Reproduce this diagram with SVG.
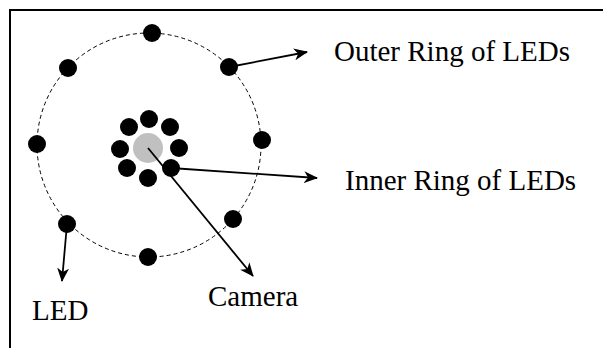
<svg xmlns="http://www.w3.org/2000/svg" width="603" height="348" viewBox="0 0 603 348">
<defs>
<style>
.led{fill:#000}
.cam{fill:#c0c0c0}
.ring{fill:none;stroke:#000;stroke-width:1;stroke-dasharray:4 3}
.arrow{stroke:#000;stroke-width:1.8;fill:none;marker-end:url(#ah)}
.lbl{font-family:"Liberation Serif","Times New Roman",serif;font-size:29px;fill:#000}
.frame{stroke:#000;stroke-width:2;fill:none}
</style>
<marker id="ah" viewBox="0 0 14 12" refX="13" refY="6" markerWidth="14" markerHeight="12" markerUnits="userSpaceOnUse" orient="auto">
<path d="M0,0 L14,6 L0,12 L4,6 z" fill="#000"/>
</marker>
</defs>
<rect width="603" height="348" fill="#fff"/>
<path class="frame" d="M10,348 V10 H603"/>
<circle class="ring" cx="149" cy="145" r="112"/>
<g id="outer-ring">
<circle class="led" cx="152" cy="33" r="9"/>
<circle class="led" cx="229" cy="67" r="9"/>
<circle class="led" cx="262" cy="140" r="9"/>
<circle class="led" cx="233" cy="219" r="9"/>
<circle class="led" cx="148" cy="257" r="9"/>
<circle class="led" cx="67" cy="224" r="9"/>
<circle class="led" cx="37" cy="144" r="9"/>
<circle class="led" cx="68" cy="68" r="9"/>
</g>
<g id="camera">
<circle class="cam" cx="148" cy="148" r="15"/>
</g>
<g id="inner-ring">
<circle class="led" cx="149" cy="119" r="9"/>
<circle class="led" cx="170" cy="127" r="9"/>
<circle class="led" cx="179" cy="148" r="9"/>
<circle class="led" cx="171" cy="168" r="9"/>
<circle class="led" cx="148" cy="178" r="9"/>
<circle class="led" cx="127" cy="168" r="9"/>
<circle class="led" cx="120" cy="149" r="9"/>
<circle class="led" cx="129" cy="127" r="9"/>
</g>
<g id="connectors">
<line class="arrow" x1="229" y1="67" x2="307" y2="52"/>
<line class="arrow" x1="171" y1="168" x2="317" y2="178"/>
<line class="arrow" x1="148" y1="148" x2="253" y2="276"/>
<line class="arrow" x1="67" y1="224" x2="62" y2="281"/>
</g>
<g id="labels">
<text class="lbl" x="334" y="61">Outer Ring of LEDs</text>
<text class="lbl" x="345" y="190">Inner Ring of LEDs</text>
<text class="lbl" x="32" y="320">LED</text>
<text class="lbl" x="208" y="306">Camera</text>
</g>
</svg>
